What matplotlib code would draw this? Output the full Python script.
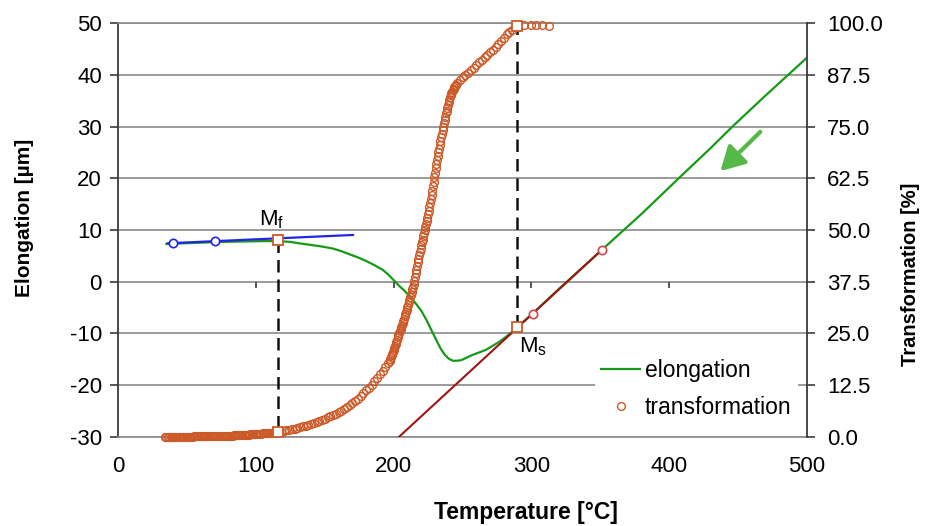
import matplotlib
matplotlib.use('Agg')
import matplotlib.pyplot as plt
from matplotlib.ticker import FormatStrFormatter

plt.rcParams['font.family'] = ['Liberation Sans', 'DejaVu Sans']
plt.rcParams['mathtext.fontset'] = 'custom'
plt.rcParams['mathtext.rm'] = 'Liberation Sans'
plt.rcParams['mathtext.it'] = 'Liberation Sans:italic'
plt.rcParams['axes.unicode_minus'] = False

# ---------------- data ----------------
x_ticks = [0, 100, 200, 300, 400, 500]
x_inner_ticks = [100, 200, 300, 400]
left_ticks = [-30, -20, -10, 0, 10, 20, 30, 40, 50]
right_ticks = [0, 12.5, 25, 37.5, 50, 62.5, 75, 87.5, 100]

elong_T = [35, 45, 55, 65, 75, 85, 95, 105, 116, 125,
           132, 140, 148, 156, 162, 168, 174, 180, 186, 192,
           196, 200, 204, 208, 212, 216, 220, 224, 228, 231,
           234, 237, 240, 243, 246, 249, 253, 257, 262, 267,
           272, 277, 282, 286, 289.5, 300, 320, 351, 380, 407,
           430, 446, 470, 500]
elong_y = [7.3, 7.4, 7.5, 7.6, 7.7, 7.75, 7.8, 7.85, 7.85, 7.7,
           7.4, 7.1, 6.8, 6.4, 5.9, 5.3, 4.7, 4.0, 3.2, 2.3,
           1.4, 0.3, -0.8, -1.8, -2.9, -4.2, -5.6, -7.5, -9.7, -11.3,
           -12.9, -14.1, -14.9, -15.3, -15.3, -15.2, -14.7, -14.2, -13.7, -13.2,
           -12.4, -11.6, -10.6, -9.7, -8.8, -6.4, -1.4, 6.1, 13.1, 20.0,
           25.8, 30.0, 36.0, 43.3]

tr_T_A = [34, 35, 36, 37, 38, 39, 40, 41, 42, 43, 44, 45, 46, 47, 48, 49, 50, 51, 52, 53,
          54, 55, 56, 57, 58, 59, 60, 61, 62, 63, 64, 65, 66, 67, 68, 69, 70, 71, 72, 73,
          74, 75, 76, 77, 78, 79, 80, 81, 82, 83, 84, 85, 86, 87, 88, 89, 90, 91, 92, 93,
          94, 95, 96, 97, 98, 99, 100, 101, 102, 103, 104, 105, 106, 107, 108, 109, 110,
          111, 112, 113, 114, 115]
tr_P_A = [0, 0, 0, 0, 0, 0, 0, 0, 0, 0, 0, 0, 0, 0, 0, 0, 0, 0, 0, 0,
          0, 0.05, 0.05, 0.05, 0.05, 0.05, 0.05, 0.05, 0.05, 0.05, 0.1, 0.1, 0.1, 0.1, 0.1, 0.1,
          0.1, 0.1, 0.15, 0.15, 0.15, 0.15, 0.2, 0.2, 0.2, 0.2, 0.25, 0.25, 0.25, 0.25, 0.3, 0.3,
          0.35, 0.35, 0.35, 0.35, 0.4, 0.42, 0.45, 0.48, 0.5, 0.52, 0.55, 0.58, 0.6, 0.62, 0.65,
          0.68, 0.7, 0.72, 0.75, 0.78, 0.8, 0.82, 0.85, 0.88, 0.9, 0.95, 1.0, 1.02, 1.05, 1.08]
tr_T_B = [116, 118, 120, 122, 124, 126, 128, 130, 132, 134, 136, 138, 140, 142, 144, 146, 148,
          150, 152, 154, 156, 158, 160, 162, 164, 166, 168, 170, 172, 174, 176, 178, 180, 182,
          184, 186, 188, 190, 192, 194, 196]
tr_P_B = [1.1, 1.2, 1.35, 1.5, 1.65, 1.8, 1.95, 2.1, 2.3, 2.5, 2.7, 2.9, 3.1, 3.35, 3.6, 3.85,
          4.1, 4.4, 4.7, 5.0, 5.3, 5.6, 5.9, 6.3, 6.7, 7.1, 7.6, 8.1, 8.6, 9.2, 9.8, 10.5, 11.2,
          11.9, 12.6, 13.4, 14.2, 15.1, 16.0, 16.9, 17.8]
tr_T_C = [197.0, 197.5, 198.0, 198.5, 199.0, 199.5, 200.0, 200.5, 201.0, 201.5,
          202.0, 202.5, 203.0, 203.5, 204.0, 204.5, 205.0, 205.5, 206.0, 206.5,
          207.0, 207.5, 208.0, 208.5, 209.0, 209.5, 210.0, 210.5, 211.0, 211.5,
          212.0, 212.5, 213.0, 213.5, 214.0, 214.5, 215.0, 215.5, 216.0, 216.5,
          217.0, 217.5, 218.0, 218.5, 219.0, 219.5, 220.0, 220.5, 221.0, 221.5,
          222.0, 222.5, 223.0, 223.5, 224.0, 224.5, 225.0, 225.5, 226.0, 226.5,
          227.0, 227.5, 228.0, 228.5, 229.0, 229.5, 230.0, 230.5, 231.0, 231.5,
          232.0, 232.5, 233.0, 233.5, 234.0, 234.5, 235.0, 235.5, 236.0, 236.5,
          237.0, 237.5, 238.0, 238.5, 239.0, 239.5, 240.0, 240.5, 241.0, 241.5,
          242.0, 242.5, 243.0, 243.5, 244.0, 244.5, 245.0]
tr_P_C = [18.3, 18.75, 19.2, 19.65, 20.1, 20.55, 21.0, 21.5, 22.0, 22.5,
          23.0, 23.5, 24.0, 24.5, 25.0, 25.5, 26.0, 26.5, 27.0, 27.5,
          28.0, 28.55, 29.1, 29.65, 30.2, 30.75, 31.3, 31.9, 32.5, 33.1,
          33.7, 34.35, 35.0, 35.65, 36.3, 37.0, 37.7, 38.6, 39.5, 40.4,
          41.3, 42.2, 43.1, 43.9, 44.7, 45.5, 46.3, 47.0, 47.7, 48.5,
          49.2, 49.9, 50.7, 51.4, 52.2, 53.0, 53.8, 54.7, 55.6, 56.5,
          57.5, 58.5, 59.5, 60.6, 61.7, 62.8, 63.9, 64.9, 65.9, 66.9,
          67.9, 68.8, 69.7, 70.6, 71.5, 72.4, 73.3, 74.2, 75.0, 75.8,
          76.6, 77.4, 78.2, 78.9, 79.6, 80.3, 80.9, 81.5, 82.1, 82.6,
          83.1, 83.5, 83.9, 84.2, 84.5, 84.8, 85.1]
tr_T_D = [246, 248, 250, 252, 254, 256, 258, 260, 262, 264, 266, 268, 270, 272, 274, 276,
          278, 280, 282, 284, 286, 288, 295, 299.9, 303.5, 307.8, 312.6]
tr_P_D = [85.5, 86.3, 86.9, 87.5, 88.05, 88.6, 89.2, 89.9, 90.6, 91.2, 91.8, 92.4, 93.0, 93.6,
          94.2, 94.9, 95.7, 96.5, 97.3, 97.9, 98.5, 99.0, 99.6, 99.6, 99.7, 99.6, 99.3]

tr_T = tr_T_A + tr_T_B + tr_T_C + tr_T_D
tr_P = tr_P_A + tr_P_B + tr_P_C + tr_P_D

# tangent lines and their markers
blue_T = [36, 170.5]
blue_y = [7.43, 9.04]
blue_mk_T = [40, 70]
blue_mk_y = [7.5, 7.85]
red_T = [204, 351]
red_y = [-30, 6.1]
red_mk_T = [301, 351]
red_mk_y = [-6.2, 6.1]

# characteristic points
Mf_T, Mf_elong, Mf_pct = 116, 8.0, 1.1
Ms_T, Ms_elong, Ms_pct = 289.5, -8.8, 99.3

# arrow (cooling direction)
arrow_tail = (466.3, 29.0)
arrow_head = (437.3, 21.4)

# ---------------- figure ----------------
W, H = 929, 526
fig = plt.figure(figsize=(W / 100, H / 100), dpi=100)
L, R, T, B = 118.3, 806.7, 23.3, 436.7
ax = fig.add_axes([L / W, 1 - B / H, (R - L) / W, (B - T) / H])
ax2 = ax.twinx()

ax.set_xlim(0, 500)
ax.set_ylim(-30, 50)
ax2.set_ylim(0, 100)

grid_c = '#8a8a8a'
axis_c = '#3a3a3a'
green = '#169a16'
blue = '#2323e6'
dred = '#a01414'
orange = '#cc5a28'

ax.set_xticks(x_ticks)
ax.set_yticks(left_ticks)
ax2.set_yticks(right_ticks)
ax2.yaxis.set_major_formatter(FormatStrFormatter('%.1f'))
ax.grid(axis='y', color=grid_c, lw=1.2)
ax.set_axisbelow(True)
ax.tick_params(axis='x', length=0, pad=14, labelsize=16)
ax.tick_params(axis='y', direction='out', length=5.8, width=1.2, pad=6, labelsize=16, color=axis_c)
ax2.tick_params(axis='y', direction='out', length=5.8, width=1.2, pad=9, labelsize=16, color=axis_c)

for s in ['top', 'bottom']:
    ax.spines[s].set_color(grid_c)
    ax.spines[s].set_linewidth(1.2)
    ax2.spines[s].set_visible(False)
ax.spines['right'].set_visible(False)
ax2.spines['left'].set_visible(False)
ax.spines['left'].set_color(axis_c)
ax.spines['left'].set_linewidth(1.3)
ax2.spines['right'].set_color(axis_c)
ax2.spines['right'].set_linewidth(1.3)

# inner x tick marks on y = 0
ax.vlines(x_inner_ticks, -1.2, 0, color=axis_c, lw=1.2)

def pct_to_left(p):
    lo, hi = ax.get_ylim()
    return lo + (hi - lo) * p / 100.0

# dashed construction lines
ax.plot([Mf_T, Mf_T], [Mf_elong, pct_to_left(Mf_pct)], color='#111111', lw=1.8,
        dashes=(5, 2.8), zorder=3)
ax.plot([Ms_T, Ms_T], [Ms_elong, pct_to_left(Ms_pct)], color='#111111', lw=1.8,
        dashes=(5, 2.8), zorder=3)

# elongation curve
ln_el, = ax.plot(elong_T, elong_y, color=green, lw=1.6, label='elongation', zorder=4)
# tangents
ax.plot(blue_T, blue_y, color=blue, lw=1.6, zorder=5)
ax.plot(blue_mk_T, blue_mk_y, 'o', mfc='white', mec=blue, ms=6, mew=1.2, zorder=6)
ax.plot(red_T, red_y, color=dred, lw=1.5, zorder=5)
ax.plot(red_mk_T, red_mk_y, 'o', mfc='white', mec='#d04848', ms=6, mew=1.2, zorder=6)
ax.plot([Mf_T], [Mf_elong], 's', mfc='white', mec=orange, ms=7, mew=1.3, zorder=7)
ax.plot([Ms_T], [Ms_elong], 's', mfc='white', mec=orange, ms=7, mew=1.3, zorder=7)

# transformation
ln_tr, = ax2.plot(tr_T, tr_P, 'o', mfc='none', mec=orange, ms=5.6, mew=1.0,
                  label='transformation', zorder=3, clip_on=False)
ax2.plot([Mf_T], [Mf_pct], 's', mfc='white', mec=orange, ms=7, mew=1.3, zorder=7, clip_on=False)
ax2.plot([Ms_T], [Ms_pct], 's', mfc='white', mec=orange, ms=7, mew=1.3, zorder=7, clip_on=False)

# labels of Mf and Ms
ax.text(111, 10.8, r'M$_{\mathrm{f}}$', fontsize=16, ha='center', va='baseline')
ax.text(301, -13.6, r'M$_{\mathrm{s}}$', fontsize=16, ha='center', va='baseline')

# arrow
ax.annotate('', xy=arrow_head, xytext=arrow_tail,
            arrowprops=dict(arrowstyle='-|>,head_length=0.9,head_width=0.5',
                            color='#55b848', lw=3, shrinkA=0, shrinkB=0,
                            mutation_scale=16))

# legend
leg = ax2.legend([ln_el, ln_tr], ['elongation', 'transformation'], loc='lower right',
                 bbox_to_anchor=(0.988, 0.025), frameon=True, facecolor='white',
                 edgecolor='none', framealpha=1, fontsize=16.5, handlelength=1.7,
                 handletextpad=0.2, labelspacing=0.62, borderpad=0.3, numpoints=1,
                 borderaxespad=0)
leg.get_frame().set_boxstyle('square', pad=0)

# axis titles
fig.text(526 / W, 1 - 512 / H, 'Temperature [°C]', fontsize=16.5, fontweight='bold',
         ha='center', va='center')
fig.text(25 / W, 1 - 218 / H, 'Elongation [µm]', fontsize=15, fontweight='bold',
         ha='center', va='center', rotation=90)
fig.text(911 / W, 1 - 274 / H, 'Transformation [%]', fontsize=14.5, fontweight='bold',
         ha='center', va='center', rotation=90)

fig.savefig('out.png', dpi=100)
